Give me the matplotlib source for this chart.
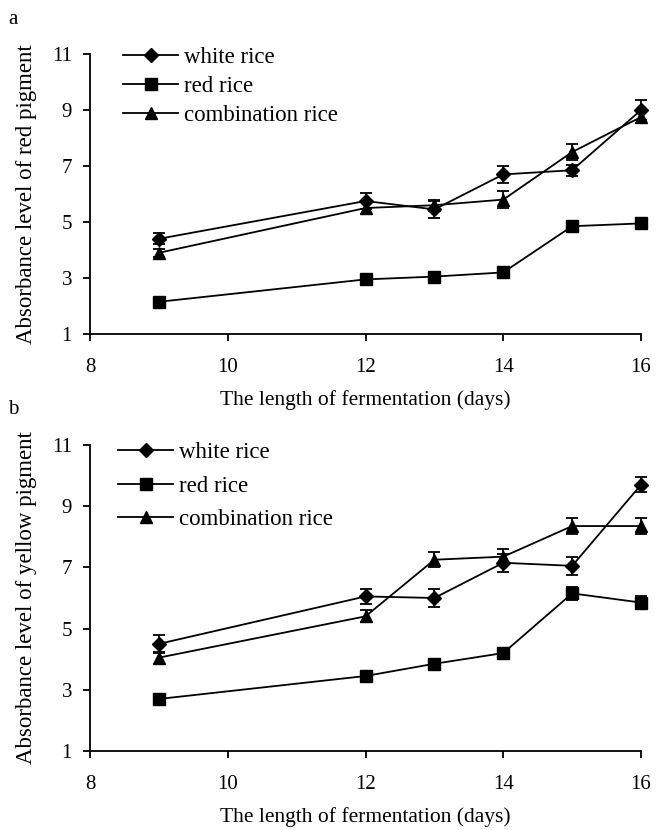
import matplotlib
matplotlib.use("Agg")
import matplotlib.pyplot as plt

days = [9, 12, 13, 14, 15, 16]
series = ["white rice", "red rice", "combination rice"]
markers = ["D", "s", "^"]

# panel a: red pigment
red_pig = {
    "white rice": [4.4, 5.75, 5.45, 6.7, 6.85, 9.0],
    "red rice": [2.15, 2.95, 3.05, 3.2, 4.85, 4.95],
    "combination rice": [3.9, 5.5, 5.6, 5.8, 7.5, 8.75],
}
red_err = {
    "white rice": [0.2, 0.3, 0.3, 0.3, 0.2, 0.35],
    "red rice": [0.1, 0.1, 0.1, 0.1, 0.1, 0.2],
    "combination rice": [0.15, 0.2, 0.2, 0.3, 0.3, 0.2],
}

# panel b: yellow pigment
yel_pig = {
    "white rice": [4.5, 6.05, 6.0, 7.15, 7.05, 9.7],
    "red rice": [2.7, 3.45, 3.85, 4.2, 6.15, 5.85],
    "combination rice": [4.05, 5.4, 7.25, 7.35, 8.35, 8.35],
}
yel_err = {
    "white rice": [0.3, 0.25, 0.3, 0.3, 0.3, 0.25],
    "red rice": [0.15, 0.15, 0.15, 0.15, 0.2, 0.2],
    "combination rice": [0.2, 0.2, 0.25, 0.25, 0.25, 0.25],
}

xticks = [8, 10, 12, 14, 16]
yticks = [1, 3, 5, 7, 9, 11]

plt.rcParams["font.family"] = ["Liberation Serif", "DejaVu Serif"]

fig = plt.figure(figsize=(6.56, 8.30), dpi=100)
ax_a = fig.add_axes([0.1372, 0.5976, 0.840, 0.3373])
ax_b = fig.add_axes([0.1372, 0.0952, 0.840, 0.3687])


def draw(ax, vals, errs, ylabel, leg_anchor, leg_space):
    for name, m in zip(series, markers):
        ms = 7 if m == "D" else 8
        ax.errorbar(days, vals[name], yerr=errs[name], color="black", marker=m,
                    markersize=ms, linewidth=1.3, elinewidth=1.3, capsize=4,
                    capthick=1.3, label=name, clip_on=False)
    ax.set_xlim(8, 16)
    ax.set_ylim(1, 11)
    ax.set_xticks(xticks)
    ax.set_yticks(yticks)
    ax.spines["top"].set_visible(False)
    ax.spines["right"].set_visible(False)
    ax.spines["left"].set_linewidth(1.3)
    ax.spines["bottom"].set_linewidth(1.3)
    ax.tick_params(direction="out", length=5, width=1.3, labelsize=15)
    ax.tick_params(axis="x", pad=12)
    ax.tick_params(axis="y", pad=8)
    ax.set_ylabel(ylabel, fontsize=16.5, labelpad=11)
    ax.set_xlabel("The length of fermentation (days)", fontsize=15.5, labelpad=10)
    handles, labels = ax.get_legend_handles_labels()
    handles = [h[0] for h in handles]
    ax.legend(handles, labels, loc="upper left", bbox_to_anchor=leg_anchor,
              frameon=False, fontsize=16.5, handlelength=2.4, handletextpad=0.25,
              labelspacing=leg_space, borderpad=0, borderaxespad=0)


draw(ax_a, red_pig, red_err, "Absorbance level of red pigment", (0.06, 1.025), 0.35)
draw(ax_b, yel_pig, yel_err, "Absorbance level of yellow pigment", (0.051, 1.01), 0.55)

fig.text(0.012, 0.976, "a", fontsize=15, va="center")
fig.text(0.012, 0.507, "b", fontsize=15, va="center")

fig.savefig("out.png", dpi=100)
